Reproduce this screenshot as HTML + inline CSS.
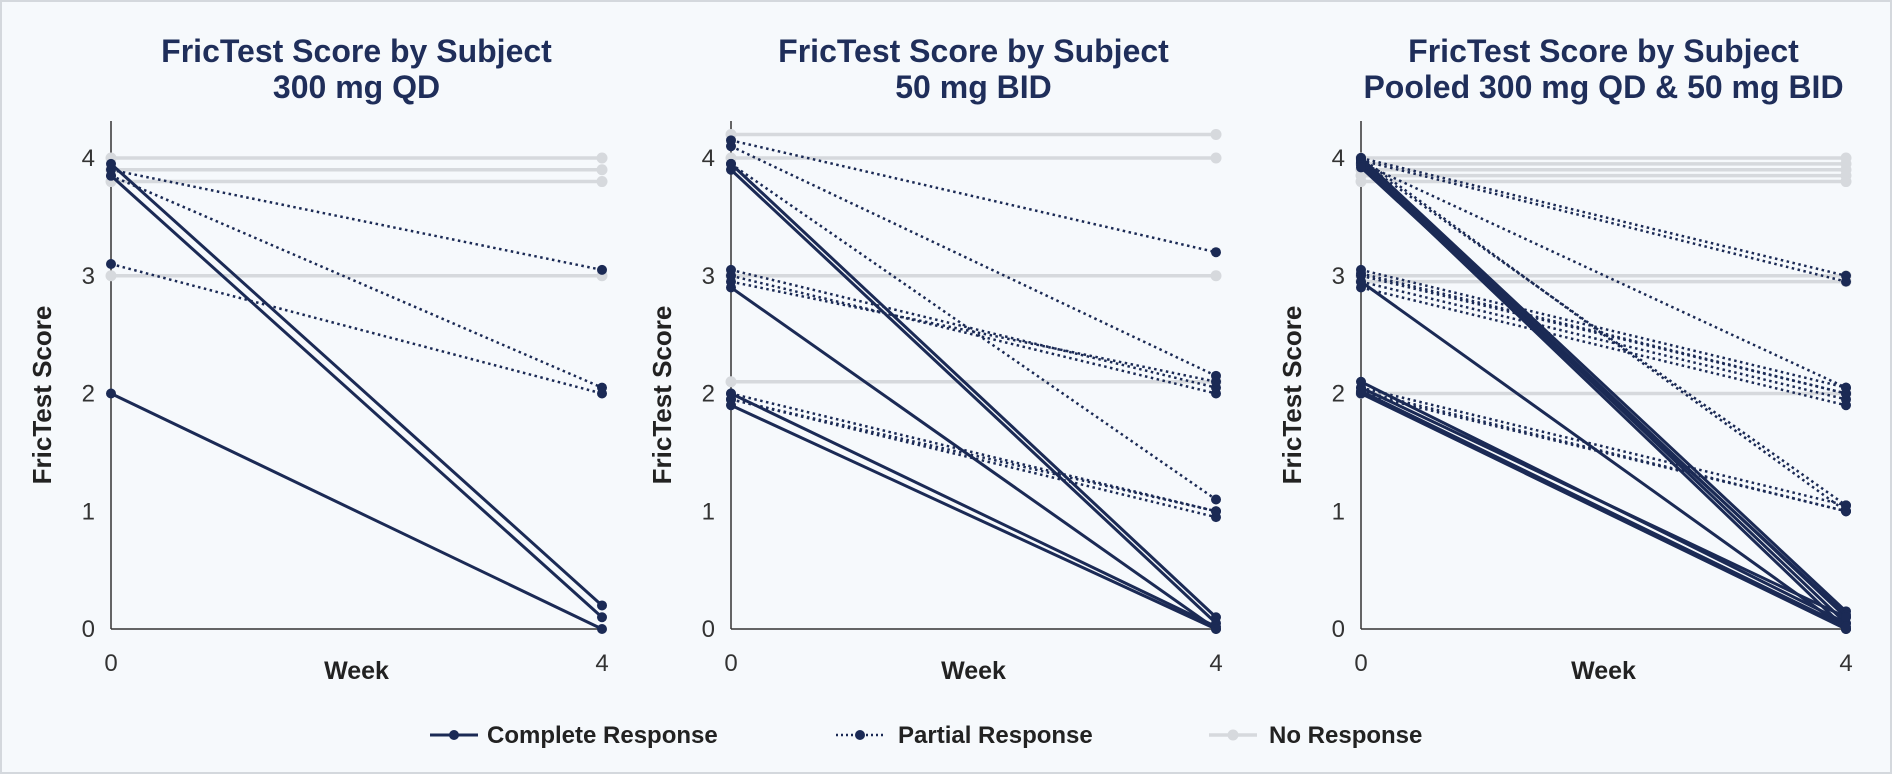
<!DOCTYPE html>
<html><head><meta charset="utf-8"><style>
html,body{margin:0;padding:0;background:#f5f9fc;}
svg{display:block;font-family:"Liberation Sans",sans-serif;}
</style></head><body>
<svg id="chart" width="1892" height="774" viewBox="0 0 1892 774">
<rect x="1" y="1" width="1890" height="772" fill="#f6f9fc" stroke="#d4d8dd" stroke-width="2"/>
<g id="panels"></g>
<g>
 <g><line x1="430" y1="735" x2="478" y2="735" stroke="#1b2a55" stroke-width="3"/><circle cx="454" cy="735" r="5" fill="#1b2a55"/><text x="487" y="743" font-size="24" font-weight="bold" fill="#222">Complete Response</text></g>
 <g><line x1="836" y1="735" x2="885" y2="735" stroke="#1b2a55" stroke-width="2.5" stroke-dasharray="2,3"/><circle cx="860" cy="735" r="5" fill="#1b2a55"/><text x="898" y="743" font-size="24" font-weight="bold" fill="#222">Partial Response</text></g>
 <g><line x1="1209" y1="735" x2="1257" y2="735" stroke="#d6d9dd" stroke-width="3.5"/><circle cx="1233" cy="735" r="5.5" fill="#d6d9dd"/><text x="1269" y="743" font-size="24" font-weight="bold" fill="#222">No Response</text></g>
</g>
</svg>
<script>
const panelTitles = [["FricTest Score by Subject","300 mg QD"],["FricTest Score by Subject","50 mg BID"],["FricTest Score by Subject","Pooled 300 mg QD & 50 mg BID"]];
const yTicks = [0,1,2,3,4];
const xTicks = [0,4];
// each subject: [week0, week4]
const qdComplete = [[3.95,0.2],[3.85,0.1],[2.0,0.0]];
const qdPartial = [[3.9,3.05],[3.85,2.05],[3.1,2.0]];
const qdNone = [[4.0,4.0],[3.9,3.9],[3.8,3.8],[3.0,3.0]];
const bidComplete = [[3.95,0.1],[3.9,0.05],[2.9,0.0],[2.0,0.02],[1.9,0.0]];
const bidPartial = [[4.15,3.2],[4.1,2.15],[3.95,1.1],[3.05,2.05],[3.0,2.0],[2.95,2.1],[2.0,1.0],[1.95,0.95],[1.95,1.0]];
const bidNone = [[4.2,4.2],[4.0,4.0],[3.0,3.0],[2.1,2.1]];
const poolComplete = [[4.0,0.15],[3.98,0.1],[3.96,0.05],[3.94,0.0],[3.92,0.12],[2.95,0.0],[2.1,0.05],[2.05,0.1],[2.0,0.0],[2.02,0.02]];
const poolPartial = [[4.0,3.0],[3.98,2.95],[3.96,2.05],[4.0,1.0],[3.97,1.05],[3.05,2.05],[3.0,2.0],[2.95,1.95],[2.9,1.9],[3.02,2.0],[2.05,1.05],[2.0,1.0],[2.02,1.0]];
const poolNone = [[4.0,4.0],[3.95,3.95],[3.9,3.9],[3.85,3.85],[3.8,3.8],[3.0,3.0],[2.95,2.95],[2.0,2.0]];

const panelData = [[qdComplete,qdPartial,qdNone],[bidComplete,bidPartial,bidNone],[poolComplete,poolPartial,poolNone]];
const panelX = [[111,602],[731,1216],[1361,1846]];
const Y0 = 629, Y4 = 158, YTOP = 121;
const NS = "http://www.w3.org/2000/svg";
const root = document.getElementById('panels');
function mk(tag, attrs, parent){const e=document.createElementNS(NS,tag);for(const k in attrs)e.setAttribute(k,attrs[k]);parent.appendChild(e);return e;}
function yS(v){return Y0 + (Y4-Y0)*v/4;}
panelData.forEach((pd,pi)=>{
  const xa=panelX[pi][0], xb=panelX[pi][1];
  const xS=w=>xa+(xb-xa)*w/4;
  const g=mk('g',{},root);
  
  
  const cx=(xa+xb)/2;
  panelTitles[pi].forEach((t,li)=>{
    const tx=mk('text',{x:cx,y:62+li*36,'text-anchor':'middle','font-size':'32','font-weight':'bold',fill:'#1f2e5a'},g);
    tx.textContent=t;
    
    
  });
  const ya=mk('line',{x1:xa,y1:YTOP,x2:xa,y2:Y0,stroke:'#333',"stroke-width":1.5},g);
  
  
  const xl=mk('line',{x1:xa,y1:Y0,x2:xb,y2:Y0,stroke:'#333',"stroke-width":1.5},g);
  
  
  yTicks.forEach(v=>{const t=mk('text',{x:xa-16,y:yS(v)+8,'text-anchor':'end','font-size':'24',fill:'#333'},g);t.textContent=v;
    
    });
  xTicks.forEach(w=>{const t=mk('text',{x:xS(w),y:671,'text-anchor':'middle','font-size':'24',fill:'#333'},g);t.textContent=w;
    
    });
  const xt=mk('text',{x:cx,y:679,'text-anchor':'middle','font-size':'25','font-weight':'bold',fill:'#222'},g);xt.textContent='Week';
  
  
  const yt=mk('text',{x:0,y:0,'text-anchor':'middle','font-size':'26','font-weight':'bold',fill:'#222',transform:`translate(${xa-60},${(YTOP+Y0)/2+20}) rotate(-90)`},g);yt.textContent='FricTest Score';
  
  
  const styles=[{stroke:'#1b2a55',w:3,d:null,r:5,n:'complete'},{stroke:'#1b2a55',w:2.5,d:'2.5,3.5',r:5,n:'partial'},{stroke:'#d6d9dd',w:3.5,d:null,r:5.5,n:'none'}];
  [2,1,0].forEach(si=>{
    const st=styles[si];
    pd[si].forEach(s=>{
      const a={x1:xS(0),y1:yS(s[0]),x2:xS(4),y2:yS(s[1]),stroke:st.stroke,'stroke-width':st.w};
      if(st.d)a['stroke-dasharray']=st.d;
      const l=mk('line',a,g);
      
      
      [[0,s[0]],[4,s[1]]].forEach(p=>{const c=mk('circle',{cx:xS(p[0]),cy:yS(p[1]),r:st.r,fill:st.stroke},g);
        
        });
    });
  });
});
</script>
</body></html>
